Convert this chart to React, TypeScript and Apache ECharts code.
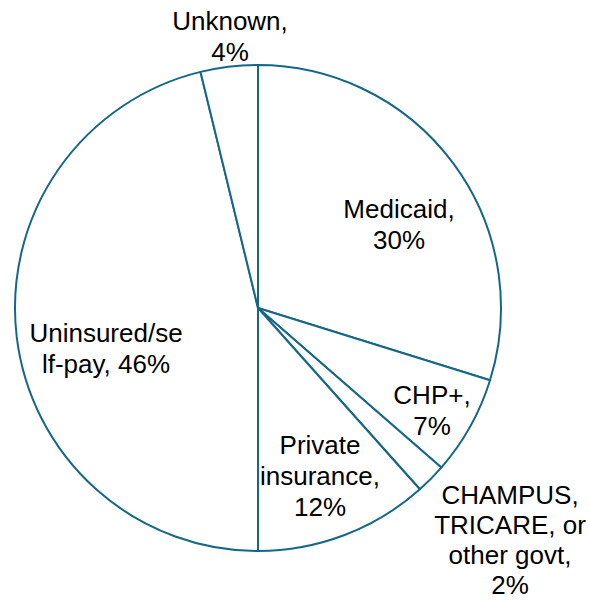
import React, { useEffect, useRef } from "react";
import * as echarts from "echarts";

const categories = [
  "Medicaid",
  "CHP+",
  "CHAMPUS, TRICARE, or other govt",
  "Private insurance",
  "Uninsured/self-pay",
  "Unknown",
];
const values = [29.8, 6.6, 2.0, 11.6, 46.2, 3.8];
const percentLabels = [30, 7, 2, 12, 46, 4];
const labelNames = [
  "Medicaid,",
  "CHP+,",
  "CHAMPUS,\nTRICARE, or\nother govt,",
  "Private\ninsurance,",
  "Uninsured/se\nlf-pay,",
  "Unknown,",
];
const labelJoiners = ["\n", "\n", "\n", "\n", " ", "\n"];

const labelPos: [number, number][] = [
  [399, 224],
  [432, 410],
  [510, 540],
  [320, 476],
  [106, 348],
  [230, 36],
];
const labelLineHeights = [31, 31, 30, 31, 31, 31];

export default function App() {
  const ref = useRef<HTMLDivElement>(null);
  useEffect(() => {
    document.body.style.margin = "0";
    const chart = echarts.init(ref.current!, null, { renderer: "svg" });
    chart.setOption({
      animation: false,
      backgroundColor: "#ffffff",
      series: [
        {
          type: "pie",
          center: [258, 308],
          radius: 243,
          startAngle: 90,
          clockwise: true,
          avoidLabelOverlap: false,
          itemStyle: { color: "#ffffff", borderColor: "#15678a", borderWidth: 2 },
          emphasis: { disabled: true },
          labelLine: { show: false },
          label: {
            show: true,
            position: "inside",
            color: "#000000",
            fontFamily: "Liberation Sans, Arial, sans-serif",
            fontSize: 26,
            lineHeight: 31,
            align: "center",
            verticalAlign: "middle",
            formatter: (p: any) =>
              labelNames[p.dataIndex] + labelJoiners[p.dataIndex] + percentLabels[p.dataIndex] + "%",
          },
          labelLayout: (p: any) => ({
            x: labelPos[p.dataIndex][0],
            y: labelPos[p.dataIndex][1],
            align: "center",
            verticalAlign: "middle",
          }),
          data: categories.map((c, i) => ({
            name: c,
            value: values[i],
            label: { lineHeight: labelLineHeights[i] },
          })),
        },
      ],
    });
    return () => chart.dispose();
  }, []);
  return (
    <div
      ref={ref}
      style={{ position: "fixed", left: 0, top: 0, width: 590, height: 600 }}
    />
  );
}
